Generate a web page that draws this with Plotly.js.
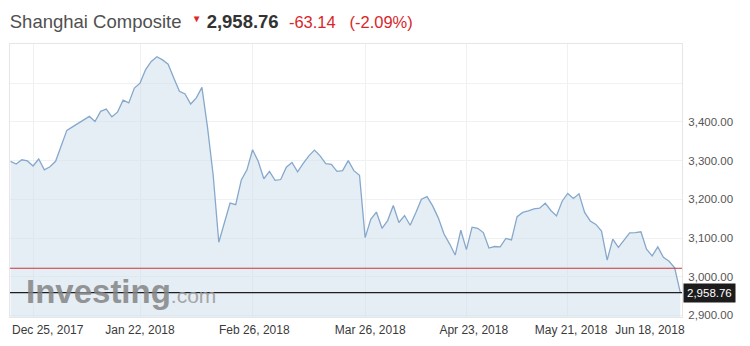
<!DOCTYPE html>
<html>
<head>
<meta charset="utf-8">
<script src="https://cdn.plot.ly/plotly-3.0.1.min.js"></script>
<style>
html,body{margin:0;padding:0;background:#ffffff;}
#chart{width:750px;height:346px;}
</style>
</head>
<body>
<div id="chart"></div>
<script>
// ---- DATA ----
const dates = [
 '2017-12-19','2017-12-20','2017-12-21','2017-12-22','2017-12-25','2017-12-26','2017-12-27','2017-12-28','2017-12-29',
 '2018-01-02','2018-01-03','2018-01-04','2018-01-05','2018-01-08','2018-01-09','2018-01-10','2018-01-11','2018-01-12',
 '2018-01-15','2018-01-16','2018-01-17','2018-01-18','2018-01-19','2018-01-22','2018-01-23','2018-01-24','2018-01-25',
 '2018-01-26','2018-01-29','2018-01-30','2018-01-31',
 '2018-02-01','2018-02-02','2018-02-05','2018-02-06','2018-02-07','2018-02-08','2018-02-09','2018-02-12','2018-02-13',
 '2018-02-14','2018-02-22','2018-02-23','2018-02-26','2018-02-27','2018-02-28',
 '2018-03-01','2018-03-02','2018-03-05','2018-03-06','2018-03-07','2018-03-08','2018-03-09','2018-03-12','2018-03-13',
 '2018-03-14','2018-03-15','2018-03-16','2018-03-19','2018-03-20','2018-03-21','2018-03-22','2018-03-23','2018-03-26',
 '2018-03-27','2018-03-28','2018-03-29','2018-03-30',
 '2018-04-02','2018-04-03','2018-04-04','2018-04-09','2018-04-10','2018-04-11','2018-04-12','2018-04-13','2018-04-16',
 '2018-04-17','2018-04-18','2018-04-19','2018-04-20','2018-04-23','2018-04-24','2018-04-25','2018-04-26','2018-04-27',
 '2018-05-02','2018-05-03','2018-05-04','2018-05-07','2018-05-08','2018-05-09','2018-05-10','2018-05-11','2018-05-14',
 '2018-05-15','2018-05-16','2018-05-17','2018-05-18','2018-05-21','2018-05-22','2018-05-23','2018-05-24','2018-05-25',
 '2018-05-28','2018-05-29','2018-05-30','2018-05-31',
 '2018-06-01','2018-06-04','2018-06-05','2018-06-06','2018-06-07','2018-06-08','2018-06-11','2018-06-12','2018-06-13',
 '2018-06-14','2018-06-15','2018-06-19'
];
const values = [
 3298,3291,3302,3299,3286,3304,3276,3284,3298,
 3340,3378,3387,3396,3405,3414,3401,3427,3433,
 3413,3425,3456,3449,3487,3500,3535,3556,3568,
 3560,3549,3513,3479,
 3472,3446,3462,3489,3385,3262,3089,3140,3190,
 3186,3250,3276,3328,3298,3253,
 3272,3249,3251,3283,3295,3271,3293,3312,3327,
 3312,3292,3290,3272,3274,3300,3274,3262,3101,
 3148,3167,3125,3145,
 3184,3140,3158,3133,3165,3200,3207,3183,3152,
 3111,3085,3056,3120,3070,3128,3125,3114,3074,
 3078,3077,3099,3095,3155,3166,3170,3175,3177,
 3190,3171,3157,3195,3215,3202,3214,3166,3144,
 3135,3118,3043,3097,
 3076,3094,3113,3114,3116,3071,3054,3077,3050,
 3040,3023,2958.76
];
const instrument = 'Shanghai Composite';
const lastPrice = 2958.76;
const prevClose = 3021.90;
const change = -63.14;
const changePct = -2.09;
const gridDates = ['2017-12-25','2018-01-22','2018-02-26','2018-03-26','2018-04-23','2018-05-21'];
const tickLabels = ['Dec 25, 2017','Jan 22, 2018','Feb 26, 2018','Mar 26, 2018','Apr 23, 2018','May 21, 2018','Jun 18, 2018'];
const yGridValues = [2900,3000,3100,3200,3300,3400,3500,3600];
const yTickShown = [2900,3000,3100,3200,3300,3400];

// ---- BUILD ----
const xIdx = dates.map((d, i) => i);
const gridIdx = gridDates.map(d => dates.indexOf(d));
// label anchor offsets (layout): first label pushed right, last label pulled left to stay in frame
const labelPos = [6.6, 23.0, 43.3, 63.9, 82.3, 99.6, 113.6];

const fmt = v => v.toLocaleString('en-US', {minimumFractionDigits: 2, maximumFractionDigits: 2});

const trace = {
  type: 'scatter', mode: 'lines',
  x: xIdx, y: values, text: dates,
  line: {color: '#86a8cc', width: 1.3},
  fill: 'tozeroy', fillcolor: 'rgba(205,222,236,0.5)',
  hoverinfo: 'text+y', showlegend: false
};
const axisTraceX = {
  type: 'scatter', mode: 'lines', x: [xIdx[0]], y: [values[0]],
  xaxis: 'x2', showlegend: false, hoverinfo: 'skip', line: {width: 0}
};
const axisTraceY = {
  type: 'scatter', mode: 'lines', x: [xIdx[0]], y: [values[0]],
  yaxis: 'y2', showlegend: false, hoverinfo: 'skip', line: {width: 0}
};

const font = 'Liberation Sans, Arial, Helvetica, sans-serif';
const titleText = instrument +
  '&nbsp; <span style="color:#e0262b;font-size:14px"><sup>\u25BC</sup></span> ' +
  '<span style="color:#333333;font-size:18.5px"><b>' + fmt(lastPrice) + '</b></span>&nbsp;&nbsp;' +
  '<span style="color:#d9262b;font-size:16.5px">' + change.toFixed(2) + '&nbsp;&nbsp;&nbsp;(' + changePct.toFixed(2) + '%)</span>';

const layout = {
  width: 750, height: 346,
  margin: {l: 10, r: 68, t: 44, b: 29, pad: 0},
  paper_bgcolor: '#ffffff', plot_bgcolor: 'rgba(0,0,0,0)',
  font: {family: font, color: '#555555', size: 11.5},
  title: {
    text: titleText, x: 0.013, xanchor: 'left', xref: 'container',
    y: 0.937, yanchor: 'middle', yref: 'container',
    font: {family: font, size: 18.5, color: '#505050'}
  },
  xaxis: {
    range: [-0.1, 119.3], tickvals: gridIdx, showticklabels: false,
    showgrid: true, gridcolor: '#eef0f2', gridwidth: 1,
    zeroline: false, showline: true, linecolor: '#e6e6e6', mirror: true, ticks: ''
  },
  xaxis2: {
    overlaying: 'x', side: 'bottom', range: [-0.1, 119.3],
    tickvals: labelPos, ticktext: tickLabels, showgrid: false, zeroline: false,
    showline: false, ticks: '', tickfont: {family: font, size: 12, color: '#3a3a3a'},
    ticklabelstandoff: 4
  },
  yaxis: {
    side: 'right', range: [2896, 3601],
    tickvals: yTickShown, ticktext: yTickShown.map(fmt),
    showgrid: false, zeroline: false,
    showline: true, linecolor: '#e6e6e6', mirror: true, ticks: '',
    tickfont: {family: font, size: 11.5, color: '#555555'},
    ticklabelstandoff: 3
  },
  yaxis2: {
    overlaying: 'y', side: 'right', range: [2896, 3601],
    tickvals: yGridValues, showticklabels: false,
    showgrid: true, gridcolor: '#f0f1f3', zeroline: false, showline: false, ticks: ''
  },
  shapes: [
    {type: 'line', xref: 'paper', x0: 0, x1: 1, yref: 'y', y0: prevClose, y1: prevClose,
     line: {color: '#c9363c', width: 1.2}},
    {type: 'line', xref: 'paper', x0: 0, x1: 1, yref: 'y', y0: lastPrice, y1: lastPrice,
     line: {color: '#1e1e1e', width: 1.2}}
  ],
  annotations: [
    {xref: 'paper', x: 1, xanchor: 'left', xshift: 1, yref: 'y', y: lastPrice, yanchor: 'middle',
     text: fmt(lastPrice), showarrow: false, bgcolor: '#1c1c1c', borderpad: 3,
     font: {family: font, size: 11.5, color: '#ffffff'}},
    {xref: 'paper', x: 0.021, xanchor: 'left', yref: 'paper', y: 0.095, yanchor: 'middle',
     text: '<b>Investing</b><span style="font-size:21px;color:#9a9a9a">.com</span>',
     showarrow: false, opacity: 0.85,
     font: {family: font, size: 33, color: '#858585'}}
  ],
  showlegend: false
};

Plotly.newPlot('chart', [axisTraceY, trace, axisTraceX], layout, {displayModeBar: false, staticPlot: true});
</script>
</body>
</html>
